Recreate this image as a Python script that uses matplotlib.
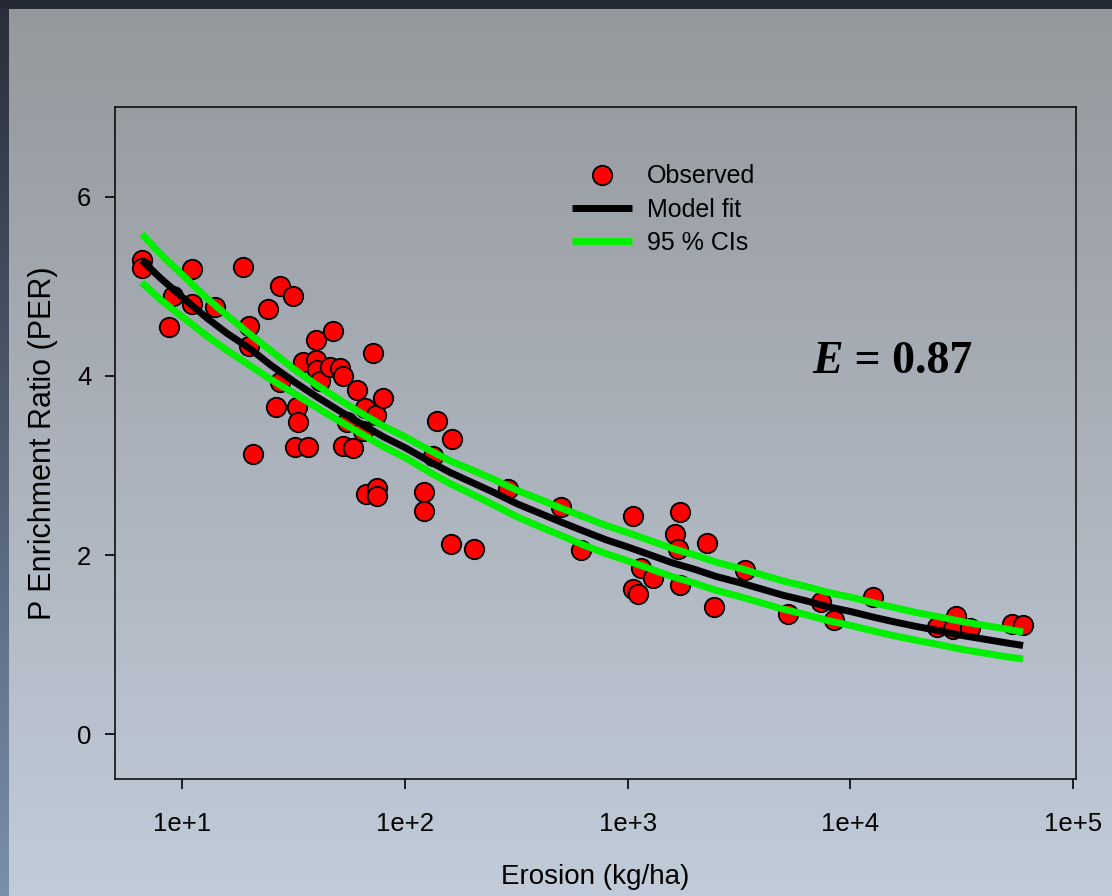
import numpy as np
import matplotlib
matplotlib.use("Agg")
import matplotlib.pyplot as plt

plt.rcParams['font.family'] = ['Liberation Sans', 'DejaVu Sans']

# Observed points (erosion kg/ha, PER)
erosion = [6.59, 6.59, 8.74, 9.11, 11.05, 11.05, 14.07, 18.84, 19.89, 19.89,
           20.90, 24.33, 26.42, 27.54, 27.54, 31.60, 32.73, 33.27, 32.17, 34.83,
           36.90, 39.96, 39.96, 40.2, 41.43, 46.17, 47.63, 51.20, 52.82, 52.65,
           55.04, 58.74, 61.03, 65.15, 66.30, 66.6, 71.66, 73.92, 74.69, 75.30,
           79.62, 122.0, 122.0, 134.3, 140.0, 162.5, 160.8, 204.6, 291.7, 501.3,
           615.2, 1053, 1055, 1118, 1150, 1306, 1634, 1685, 1721, 1721,
           2268, 2445, 3370, 5273, 7368, 8453, 12650, 24440, 29830, 29010,
           34480, 53060, 59460]
per_obs = [5.29, 5.20, 4.54, 4.89, 5.19, 4.80, 4.77, 5.21, 4.56, 4.33,
           3.13, 4.75, 3.65, 5.00, 3.93, 4.89, 3.65, 3.48, 3.21, 4.15,
           3.21, 4.40, 4.18, 4.06, 3.94, 4.10, 4.50, 4.09, 4.00, 3.22,
           3.48, 3.19, 3.84, 3.38, 3.64, 2.68, 4.26, 3.56, 2.75, 2.66,
           3.75, 2.70, 2.49, 3.10, 3.50, 3.29, 2.12, 2.07, 2.74, 2.54,
           2.06, 2.43, 1.62, 1.57, 1.86, 1.74, 2.23, 2.07, 2.48, 1.66,
           2.13, 1.42, 1.83, 1.34, 1.47, 1.27, 1.53, 1.20, 1.32, 1.17,
           1.19, 1.23, 1.22]

# Model fit and 95 % confidence band, read at points along the curves
fit_x = [6.6, 8, 10, 13, 16, 20, 25, 32, 40, 50, 63, 80, 100, 130, 160, 200,
         250, 320, 400, 500, 630, 800, 1000, 1300, 1600, 2000, 2500, 3200,
         4000, 5000, 6300, 8000, 10000, 13000, 16000, 20000, 25000, 32000,
         40000, 50000, 59600]
fit_y = [5.29, 5.09, 4.88, 4.64, 4.47, 4.31, 4.12, 3.93, 3.77, 3.62, 3.47,
         3.32, 3.20, 3.04, 2.92, 2.81, 2.70, 2.57, 2.47, 2.37, 2.27, 2.17,
         2.09, 1.99, 1.91, 1.84, 1.76, 1.69, 1.62, 1.55, 1.49, 1.42, 1.37,
         1.30, 1.25, 1.20, 1.155, 1.10, 1.06, 1.02, 0.99]
ci_hi = [5.58, 5.36, 5.13, 4.86, 4.67, 4.47, 4.28, 4.07, 3.90, 3.745, 3.59,
         3.44, 3.32, 3.165, 3.05, 2.95, 2.845, 2.72, 2.625, 2.525, 2.43, 2.33,
         2.25, 2.15, 2.07, 2.00, 1.92, 1.85, 1.78, 1.71, 1.65, 1.58, 1.53,
         1.46, 1.41, 1.355, 1.31, 1.255, 1.215, 1.175, 1.14]
ci_lo = [5.04, 4.85, 4.66, 4.44, 4.28, 4.12, 3.96, 3.80, 3.65, 3.505, 3.36,
         3.21, 3.09, 2.92, 2.795, 2.68, 2.56, 2.425, 2.32, 2.22, 2.115, 2.015,
         1.935, 1.835, 1.755, 1.685, 1.605, 1.535, 1.465, 1.395, 1.335, 1.265,
         1.215, 1.145, 1.095, 1.045, 1.00, 0.945, 0.905, 0.865, 0.84]

xticks = [1e1, 1e2, 1e3, 1e4, 1e5]
xticklabels = ["1e+1", "1e+2", "1e+3", "1e+4", "1e+5"]
yticks = [0, 2, 4, 6]

W, H = 1112, 896
fig = plt.figure(figsize=(W / 100, H / 100), dpi=100)

# background gradient with dark strips on top and left
t = np.linspace(0, 1, H)[:, None]
top_c = np.array([148, 151, 155]) / 255
bot_c = np.array([193, 204, 218]) / 255
bg = np.ones((H, W, 3)) * (top_c + (bot_c - top_c) * t).reshape(H, 1, 3)
strip_top = np.array([40, 46, 57]) / 255
strip_bot = np.array([122, 143, 170]) / 255
bg[:, :9, :] = (strip_top + (strip_bot - strip_top) * t)[:, None, :]
bg[:10, :, :] = np.array([37, 43, 53]) / 255
bax = fig.add_axes([0, 0, 1, 1], zorder=-10)
bax.imshow(bg, aspect='auto', extent=(0, 1, 0, 1))
bax.axis('off')

ax = fig.add_axes([115 / W, 1 - 779 / H, (1076 - 115) / W, (779 - 107) / H])
ax.patch.set_alpha(0)

ax.plot(erosion, per_obs, 'o', ms=14, mfc='#ff0000', mec='black', mew=1.3,
        label='Observed', zorder=2)
ax.plot(fit_x, fit_y, color='black', lw=5, label='Model fit', zorder=3,
        solid_capstyle='butt')
ax.plot(fit_x, ci_hi, color='#00f000', lw=5, label='95 % CIs', zorder=4,
        solid_capstyle='butt')
ax.plot(fit_x, ci_lo, color='#00f000', lw=5, zorder=4, solid_capstyle='butt')

ax.set_xscale('log')
ax.set_xlim(5.0, 1.03e5)
ax.set_ylim(-0.5, 7)
ax.set_xticks(xticks)
ax.set_xticklabels(xticklabels)
ax.minorticks_off()
ax.set_yticks(yticks)
ax.tick_params(axis='both', direction='out', length=7, width=1.2, labelsize=18.5,
               top=False, right=False)
ax.tick_params(axis='x', pad=17)
ax.tick_params(axis='y', pad=10)
for s in ax.spines.values():
    s.set_linewidth(1.1)

ax.set_xlabel("Erosion (kg/ha)", fontsize=20, labelpad=20)
ax.set_ylabel("P Enrichment Ratio (PER)", fontsize=22, labelpad=14)

ax.legend(loc='upper left', bbox_to_anchor=(0.4755, 0.9146), frameon=False,
          fontsize=18, numpoints=1, handlelength=2.4, handletextpad=0.6,
          labelspacing=0.37, borderpad=0, borderaxespad=0)

te = ax.text(6730, 4.03, "E", fontsize=33, fontweight='bold', fontstyle='italic',
             family='Liberation Serif', va='baseline', ha='left')
ax.annotate(" = 0.87", xy=(1, 0), xycoords=te, va='bottom', ha='left',
            fontsize=33, fontweight='bold', family='Liberation Serif')

fig.savefig("out.png", dpi=100)
